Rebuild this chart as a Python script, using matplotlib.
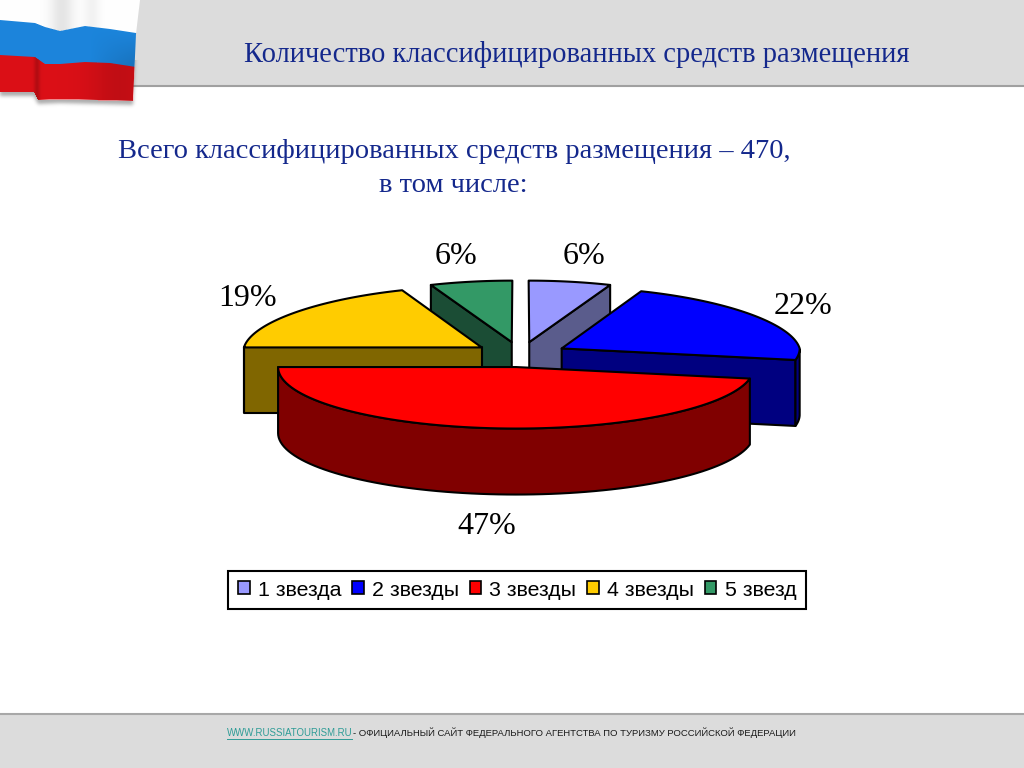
import numpy as np
import matplotlib
matplotlib.use("Agg")
import matplotlib.pyplot as plt
from matplotlib.patches import Polygon, Rectangle, Patch

categories = ["1 звезда", "2 звезды", "3 звезды", "4 звезды", "5 звезд"]
shares = [6, 22, 47, 19, 6]
title_text = "Количество классифицированных средств размещения"
subtitle_lines = ["Всего классифицированных средств размещения – 470,", "в том числе:"]
footer_link = "WWW.RUSSIATOURISM.RU"
footer_rest = "- ОФИЦИАЛЬНЫЙ САЙТ ФЕДЕРАЛЬНОГО АГЕНТСТВА ПО ТУРИЗМУ РОССИЙСКОЙ ФЕДЕРАЦИИ"

top_colors = ["#9999FF", "#0000FF", "#FF0000", "#FFCC00", "#339966"]
side_colors = ["#5A5C8C", "#000080", "#800000", "#806600", "#1B4D35"]
label_xy = [(584, 257), (803, 306), (487, 527), (248, 299), (456, 257)]
draw_order = [4, 0, 3, 1, 2]

CX, CY, RX, RY, DEPTH = 520.5, 354.5, 238.0, 61.5, 66.0
EX, EY, PERSP = 47.0, 12.6, 0.068
SERIF = "Liberation Serif"
NAVY = "#14288C"

fig = plt.figure(figsize=(10.24, 7.68), dpi=100, facecolor="white")
ax = fig.add_axes([0, 0, 1, 1])
ax.set_xlim(0, 1024)
ax.set_ylim(768, 0)
ax.axis("off")

# page furniture
ax.add_patch(Rectangle((0, 0), 1024, 85, fc="#DCDCDC", ec="none", zorder=1))
ax.plot([0, 1024], [85.5, 85.5], color="#A0A0A0", lw=1.5, zorder=2)
ax.add_patch(Rectangle((0, 714), 1024, 54, fc="#DCDCDC", ec="none", zorder=1))
ax.plot([0, 1024], [713.5, 713.5], color="#A8A8A8", lw=1.5, zorder=2)


# waving flag, drawn as a small shaded picture
def flag_image(w=150, h=118):
    xs = np.arange(w) + 0.5
    ys = np.arange(h) + 0.5
    X, Y = np.meshgrid(xs, ys)
    knots = [0, 35, 45, 60, 85, 110, 136]
    b1 = np.interp(X, knots, [20, 23, 27, 31, 26, 29, 33])
    b2 = np.interp(X, knots, [55, 57, 64, 64, 62, 63, 67])
    b3 = np.interp(X, [0, 34, 38, 60, 136], [92, 92, 100, 99, 101])
    right = np.interp(Y, [0, 34, 101], [140, 136, 133])
    soft = lambda d: np.clip(d + 0.5, 0, 1)
    white = np.array([1.0, 1.0, 1.0])
    blue = np.array([0.11, 0.52, 0.86])
    red = np.array([0.86, 0.06, 0.09])
    m1, m2 = soft(Y - b1)[..., None], soft(Y - b2)[..., None]
    rgb = white * (1 - m1) + blue * m1
    rgb = rgb * (1 - m2) + red * m2
    # folds
    fold = 0.10 * np.exp(-((X - 62) / 12) ** 2) * (Y < b1) + 0.05 * np.exp(-((X - 92) / 8) ** 2) * (Y < b1)
    fold += 0.12 * np.exp(-((X - 120) / 30) ** 2) * (Y > b2)
    fold += 0.15 * np.clip((X - 90) / 46, 0, 1) * (Y > b1) * (Y < b2) * np.clip((Y - b1) / 34, 0, 1)
    fold += 0.18 * np.exp(-((X - 37) / 3) ** 2) * (Y > b2)
    rgb = rgb * (1 - fold[..., None])
    mask = soft(right - X) * soft(b3 - Y)
    # soft grey shadow under and to the right of the cloth
    offs = np.clip(mask, 0, 1)
    for _ in range(8):
        offs = (np.roll(offs, 1, 0) + np.roll(offs, -1, 0) + np.roll(offs, 1, 1) + np.roll(offs, -1, 1) + offs) / 5
    shadow = np.roll(offs, 4, axis=0) * 0.5
    shadow *= np.clip((147 - X) / 5, 0, 1) * np.clip((114 - Y) / 5, 0, 1) * (Y > 60)
    alpha = np.maximum(mask, shadow)
    out = np.dstack([rgb, alpha])
    out[..., :3] = np.where((mask > 0)[..., None], out[..., :3], 0.35)
    return out, w, h


flag, fw, fh = flag_image()
ax.imshow(flag, extent=(0, fw, fh, 0), zorder=4, interpolation="bilinear", aspect="auto")
ax.set_xlim(0, 1024)
ax.set_ylim(768, 0)

# titles
ax.text(576.5, 54, title_text, family=SERIF, fontsize=20.55, color=NAVY, ha="center", va="center", zorder=5)
ax.text(454, 152, subtitle_lines[0], family=SERIF, fontsize=20.5, color=NAVY, ha="center", va="center", zorder=5)
ax.text(453, 186, subtitle_lines[1], family=SERIF, fontsize=20.5, color=NAVY, ha="center", va="center", zorder=5)


def project(apex, theta, radius=1.0):
    """Pie-plane point at clock angle theta (radians) seen in tilted perspective."""
    x = apex[0] + RX * radius * np.sin(theta)
    y = apex[1] - RY * radius * np.cos(theta)
    scale = 1 + PERSP * min(0.0, (y - (CY - 6)) / RY)
    return CX + (x - CX) * scale, y


total = sum(shares)
edges = np.radians(np.cumsum([0] + shares) / total * 360)

for i in draw_order:
    t1, t2 = edges[i], edges[i + 1]
    mid = (t1 + t2) / 2
    apex = (CX + EX * np.sin(mid), CY - EY * np.cos(mid))
    arc = np.linspace(t1, t2, 80)
    ax_pts = np.array([project(apex, t) for t in arc])
    centre = np.array(project(apex, 0, 0))
    drop = np.array([0, DEPTH])
    zo = 10 + 2 * draw_order.index(i)
    style = dict(ec="black", lw=1.5, joinstyle="round", zorder=zo)
    # radial walls facing the viewer
    if np.sin(t1) < 0:
        p = ax_pts[0]
        ax.add_patch(Polygon([p, centre, centre + drop, p + drop], fc=side_colors[i], **style))
    if np.sin(t2) > 0:
        p = ax_pts[-1]
        ax.add_patch(Polygon([p, centre, centre + drop, p + drop], fc=side_colors[i], **style))
    # outer wall: the near half of the rim
    near = np.cos(arc) <= 0
    if near.any():
        rim = ax_pts[near]
        ax.add_patch(Polygon(np.vstack([rim, (rim + drop)[::-1]]), fc=side_colors[i], **style))
    # top face
    ax.add_patch(Polygon(np.vstack([centre, ax_pts]), fc=top_colors[i], **style))

for share, (lx, ly) in zip(shares, label_xy):
    ax.text(lx, ly, f"{share}%", family=SERIF, fontsize=23, color="black",
            ha="center", va="center", zorder=30)

handles = [Patch(fc=c, ec="black", lw=1.2) for c in top_colors]
leg = ax.legend(handles, categories, loc="center", bbox_to_anchor=(517, 590),
                bbox_transform=ax.transData, ncol=5, frameon=True, fancybox=False,
                framealpha=1, edgecolor="black", facecolor="white",
                prop={"family": "Liberation Sans", "size": 15.4},
                handlelength=0.55, handleheight=0.55, handletextpad=0.38, columnspacing=0.5,
                borderpad=0.45, borderaxespad=0)
leg.get_frame().set_linewidth(1.5)
leg.set_zorder(30)

# footer
ax.text(227, 733, footer_link, family="Liberation Sans", fontsize=6.9, color="#2E9C96",
        ha="left", va="center", zorder=5)
ax.plot([227, 352], [738.5, 738.5], color="#2E9C96", lw=0.7, zorder=5)
ax.text(353, 733, footer_rest, family="Liberation Sans", fontsize=6.8, color="#1A1A1A",
        ha="left", va="center", zorder=5)

fig.savefig("out.png", dpi=100, facecolor="white")
